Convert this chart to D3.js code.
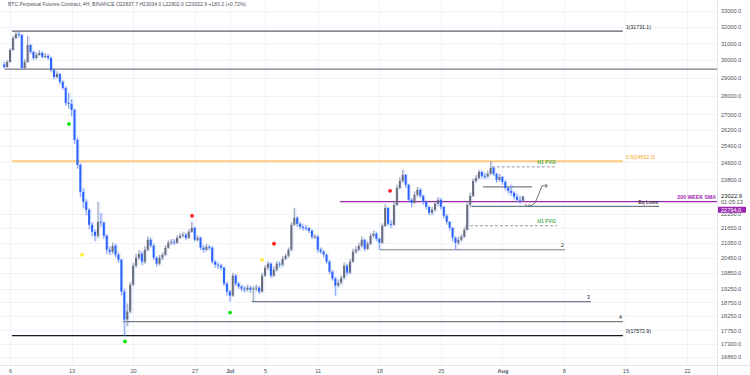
<!DOCTYPE html>
<html><head><meta charset="utf-8">
<script src="https://cdn.jsdelivr.net/npm/d3@7"></script>
<style>
html,body{margin:0;padding:0;background:#fff;}
svg{display:block;font-family:"Liberation Sans",Arial,sans-serif;}
</style></head>
<body><svg id="c" width="750" height="375"></svg>
<script>
// ---------- DATA ----------
const titleText = "BTC Perpetual Futures Contract, 4H, BINANCE  O22837.7  H23034.0  L22802.0  C23022.9  +183.2 (+0.72%)";
const firstCandleTime = "2022-06-05T08:00:00Z";
const candleHours = 8;
const firstOpen = 29750;
const closes = [29602,29891,30595,31317,31560,31499,29545,29891,30891,30477,
30125,30301,30419,30183,30242,30125,29430,29034,29203,28754,
28421,27606,27553,27234,25695,24479,23231,22786,22435,21792,
21499,21333,21919,21877,21333,20762,20682,20924,20562,20364,
19141,18131,18415,19402,20129,20443,20602,20286,20762,21168,
20924,20443,20207,20443,20562,20842,21046,21087,21046,21250,
21333,21374,21250,21499,21666,21168,21250,20842,20762,20883,
20842,20286,20168,20129,20051,19440,19141,18993,19743,19440,
19327,19252,19215,19290,19215,19252,19290,19141,19743,20051,
20207,19743,19973,20207,20168,20404,20522,20762,21792,22090,
21834,21708,21666,21650,21540,21292,21300,20762,20682,20562,
20286,19896,19628,19365,19477,19666,20129,19858,20286,20682,
20762,20924,21168,20802,21005,21333,21416,21209,21046,21750,
22522,21834,21792,22653,23412,23731,24009,23548,22874,22742,
23096,23321,23051,22786,22566,22305,22435,22697,22874,22566,
22175,21919,21666,21250,21046,21168,21292,21582,22653,23051,
23731,23869,24149,23962,23940,24056,24337,24056,23777,23916,
23685,23412,23276,23186,23007,22874,22838,23022.9];
const highs = [29900,30000,30700,31450,31700,31731,31550,30050,31450,30950,
30550,30450,30600,30500,30400,30350,30200,29500,29350,29250,
28850,28500,28150,27800,27300,25800,24550,23400,22900,22500,
21900,21600,22786,22300,21950,21400,20900,21050,21000,20650,
20400,19250,18700,19500,20250,20600,20750,20700,20900,21300,
21250,21000,20500,20550,20650,20950,21150,21200,21200,21350,
21450,21500,21450,21600,21919,21700,21350,21300,20950,21000,
20950,20900,20350,20250,20200,20100,19500,19200,19850,19800,
19500,19400,19350,19400,19350,19350,19400,19350,19850,20150,
20300,20250,20100,20300,20300,20500,20600,20850,21900,22522,
22150,21900,21800,21780,21700,21600,21400,21350,20850,20750,
20600,20350,19950,19700,19600,19750,20250,20200,20400,20800,
20900,21050,21300,21200,21100,21450,21550,21500,21250,21850,
22700,22550,22000,22800,23550,23900,24242,24050,23600,22950,
23250,23450,23400,23100,22850,22600,22550,22800,23000,22950,
22600,22250,21950,21700,21300,21300,21400,21700,22750,23200,
23850,24000,24250,24200,24100,24200,24650,24400,24100,24050,
23950,23750,23450,23550,23250,23150,23050,23034];
const lows = [29500,29560,29850,30550,31250,31350,29480,29500,29850,30350,
30000,30050,30250,30100,30100,30000,29300,28900,28950,28600,
28300,27450,27300,26900,25500,24300,23000,22500,22200,21600,
21300,21100,21250,21700,21200,20600,20550,20600,20450,20250,
19000,17572.9,17900,18350,19350,20050,20350,20150,20200,20700,
20850,20350,20100,20150,20350,20500,20800,20950,20950,21000,
21200,21250,21150,21200,21450,21100,21100,20750,20650,20700,
20750,20200,20050,20000,19950,19350,19000,18774,18950,19350,
19250,19150,19100,19150,19100,18780,19150,19050,19100,19700,
19950,19650,19700,19900,20050,20100,20350,20450,20700,21750,
21700,21600,21550,21550,21450,21200,21200,20650,20600,20450,
20200,19800,19550,18993,19300,19400,19600,19750,19800,20250,
20600,20700,20850,20700,20750,20950,21250,21100,20762,21000,
21700,21750,21650,21750,22600,23350,23650,23400,22750,22550,
22700,23000,22950,22650,22450,22200,22200,22350,22600,22450,
22050,21800,21550,21100,20770,20950,21100,21250,21550,22550,
23000,23650,23800,23850,23800,23850,24000,23950,23650,23700,
23550,23300,23150,23050,22900,22750,22700,22802];

const yTicks = [33000,32000,31000,30000,29000,28000,27000,26200,25400,24600,23800,22250,21650,21050,20450,19850,19250,18750,18250,17750,17300,16860];
const xTickDates = ["2022-06-06","2022-06-13","2022-06-20","2022-06-27","2022-07-01","2022-07-05","2022-07-11","2022-07-18","2022-07-25","2022-08-01","2022-08-08","2022-08-15","2022-08-22"];
const xTickLabels = ["6","13","20","27","Jul","5","11","18","25","Aug","8","15","22"];

// levels: key, price, from, to, label
const levelKeys   = ["fib1","range","fib05","sma","eq","box","fvgHi","fvgLo","lvl2","lvl3","lvl4","fib0"];
const levelPrices = [31731.1,29485,24652.0,22794.0,22588,23457,24384,21750,20762,18774,18060,17572.9];
const levelFrom   = ["2022-06-06T05:30Z","2022-06-05T10:00Z","2022-06-06T05:30Z","2022-07-13T13:00Z","2022-07-28T12:00Z","2022-07-29T19:00Z","2022-07-30T19:00Z","2022-07-27T18:00Z","2022-07-18T02:00Z","2022-07-03T12:00Z","2022-06-18T20:00Z","2022-06-06T05:30Z"];
const levelTo     = ["2022-08-14T17:00Z","2022-08-26T00:00Z","2022-08-14T17:00Z","2022-08-26T00:00Z","2022-08-18T20:00Z","2022-08-04T09:00Z","2022-08-07T05:00Z","2022-08-07T05:00Z","2022-08-08T03:00Z","2022-08-11T01:30Z","2022-08-14T17:00Z","2022-08-14T17:00Z"];
const levelLabels = ["1(31731.1)","","0.5(24652.0)","200 WEEK SMA","Eq Lows","","H1 FVG","H1 FVG","2","3","4","0(17572.9)"];

const projTimes  = ["2022-08-03T14:00Z","2022-08-03T19:30Z","2022-08-04T01:00Z","2022-08-04T06:30Z","2022-08-04T17:30Z","2022-08-05T12:30Z","2022-08-06T02:00Z"];
const projPrices = [22697,22566,22653,22610,22742,23503,23503];

const markerTimes  = ["2022-06-12T17:00Z","2022-06-14T04:30Z","2022-06-19T02:00Z","2022-06-26T17:00Z","2022-07-01T00:45Z","2022-07-04T16:00Z","2022-07-06T00:45Z","2022-07-19T05:30Z"];
const markerPrices = [26504,20562,17378,22175,18379,20364,21005,23276];
const markerKinds  = ["low","mid","low","high","low","mid","high","high"];

const lastPrice = 23022.9, lastPriceText = "23022.9", countdown = "01:05:13", smaText = "22794.0";

// ---------- SCALES ----------
const W = 750, H = 375, plotR = 717, plotB = 365;
const x = d3.scaleUtc().domain([new Date("2022-06-06T00:00Z"), new Date("2022-08-22T00:00Z")]).range([10, 687]);
const y = d3.scaleLog().domain([16860, 33000]).range([357, 11]);

const svg = d3.select("#c");
svg.append("rect").attr("width",W).attr("height",H).attr("fill","#fff");
const clip = svg.append("defs").append("clipPath").attr("id","pc");
clip.append("rect").attr("x",0).attr("y",0).attr("width",plotR).attr("height",plotB);

// grid
const grid = svg.append("g");
grid.selectAll("line.h").data(yTicks).join("line")
  .attr("x1",0).attr("x2",plotR).attr("y1",d=>Math.round(y(d))+0.5).attr("y2",d=>Math.round(y(d))+0.5)
  .attr("stroke","#f0f3fa").attr("stroke-width",1);
grid.selectAll("line.v").data(xTickDates).join("line")
  .attr("y1",0).attr("y2",plotB).attr("x1",d=>Math.round(x(new Date(d)))+0.5).attr("x2",d=>Math.round(x(new Date(d)))+0.5)
  .attr("stroke","#f0f3fa").attr("stroke-width",1);

const plot = svg.append("g").attr("clip-path","url(#pc)");

// levels
const levelStyle = {
  fib1:{c:"#5d606b",w:1.2}, range:{c:"#787b86",w:1.2}, fib05:{c:"#ffcc80",w:2.2}, sma:{c:"#9c27b0",w:1.3},
  eq:{c:"#787b86",w:1.2}, box:{c:"#787b86",w:1.2}, fvgHi:{c:"#9598a1",w:1,d:"3,2"}, fvgLo:{c:"#9598a1",w:1,d:"3,2"},
  lvl2:{c:"#787b86",w:1.2}, lvl3:{c:"#787b86",w:1.2}, lvl4:{c:"#787b86",w:1.2}, fib0:{c:"#131722",w:1.3}
};
const levels = levelKeys.map((k,i)=>({k, p:levelPrices[i], f:new Date(levelFrom[i]), t:new Date(levelTo[i]), lab:levelLabels[i]}));
plot.selectAll("line.lv").data(levels).join("line")
  .attr("x1",d=>x(d.f)).attr("x2",d=>x(d.t)).attr("y1",d=>y(d.p)).attr("y2",d=>y(d.p))
  .attr("stroke",d=>levelStyle[d.k].c).attr("stroke-width",d=>levelStyle[d.k].w)
  .attr("stroke-dasharray",d=>levelStyle[d.k].d||null);

// candles
const t0 = new Date(firstCandleTime).getTime();
const candles = closes.map((c,i)=>({t:new Date(t0+i*candleHours*3600e3), o:i?closes[i-1]:firstOpen, c, h:highs[i], l:lows[i]}));
const UP="#6b6e78", DN="#2962ff";
const cg = plot.append("g");
cg.selectAll("rect.ghost").data(candles).join("rect")
  .attr("x",d=>x(d.t)-0.6).attr("width",2.8)
  .attr("y",d=>y(d.h)).attr("height",d=>Math.max(1,y(d.l)-y(d.h)))
  .attr("fill","#2962ff").attr("opacity",0.15);
cg.selectAll("line.wick").data(candles).join("line")
  .attr("x1",d=>x(d.t)).attr("x2",d=>x(d.t)).attr("y1",d=>y(d.h)).attr("y2",d=>y(d.l))
  .attr("stroke",d=>d.c>=d.o?"#9a9ca4":"#7d9cf7").attr("stroke-width",0.9);
cg.selectAll("rect.body").data(candles).join("rect")
  .attr("x",d=>x(d.t)-1).attr("width",2)
  .attr("y",d=>y(Math.max(d.o,d.c))).attr("height",d=>Math.max(1,Math.abs(y(d.o)-y(d.c))))
  .attr("fill",d=>d.c>=d.o?UP:DN);

// projection path
const proj = projTimes.map((t,i)=>[x(new Date(t)), y(projPrices[i])]);
plot.append("path").attr("d",d3.line()(proj)).attr("fill","none").attr("stroke","#5d606b").attr("stroke-width",0.9);
const pe = proj[proj.length-1];
plot.append("path").attr("d",`M${pe[0]-2},${pe[1]-1.8}L${pe[0]+0.5},${pe[1]}L${pe[0]-2},${pe[1]+1.8}`)
  .attr("fill","none").attr("stroke","#5d606b").attr("stroke-width",0.9);

// markers
const mColor = {low:"#00e600", mid:"#ffeb3b", high:"#ff1a1a"};
plot.selectAll("circle.m").data(markerTimes.map((t,i)=>({t:new Date(t),p:markerPrices[i],k:markerKinds[i]}))).join("circle")
  .attr("cx",d=>x(d.t)).attr("cy",d=>y(d.p)).attr("r",1.9).attr("fill",d=>mColor[d.k]);

// level labels
const labStyle = {fib1:{c:"#131722",a:"start"}, fib05:{c:"#f5a623",a:"start"}, sma:{c:"#9c27b0",a:"end"}, eq:{c:"#131722",a:"end"},
  fvgHi:{c:"#4caf50",a:"end"}, fvgLo:{c:"#4caf50",a:"end"}, lvl2:{c:"#131722",a:"end"}, lvl3:{c:"#131722",a:"end"}, lvl4:{c:"#131722",a:"end"}, fib0:{c:"#131722",a:"start"}};
svg.selectAll("text.lv").data(levels.filter(d=>d.lab)).join("text")
  .attr("x",d=>{const s=labStyle[d.k]; return s.a==="start"? x(d.t)+3 : (d.k==="sma"? plotR-1 : x(d.t)-1);})
  .attr("y",d=>y(d.p)-2.5)
  .attr("text-anchor",d=>labStyle[d.k].a)
  .attr("font-size",5.2).attr("fill",d=>labStyle[d.k].c)
  .attr("font-weight",d=>["sma","fvgHi","fvgLo"].includes(d.k)?"bold":null)
  .text(d=>d.lab);

// axes frame
svg.append("line").attr("x1",plotR+0.5).attr("x2",plotR+0.5).attr("y1",0).attr("y2",H).attr("stroke","#e0e3eb");
svg.append("line").attr("x1",0).attr("x2",W).attr("y1",plotB+0.5).attr("y2",plotB+0.5).attr("stroke","#e0e3eb");

// y axis
const yAxis = d3.axisRight(y).tickValues(yTicks).tickSize(0).tickPadding(0).tickFormat(d=>d3.format(".1f")(d));
const ya = svg.append("g").attr("transform",`translate(${plotR+4},0)`).call(yAxis);
ya.select(".domain").remove();
ya.selectAll("text").attr("font-size",5.6).attr("fill","#50535e").attr("font-family","Liberation Sans, Arial, sans-serif");

// last price and countdown
svg.append("rect").attr("x",plotR+2).attr("y",y(lastPrice)-4).attr("width",31).attr("height",13).attr("fill","#fff");
svg.append("text").attr("x",plotR+4).attr("y",y(lastPrice)+1.5).attr("font-size",5.8).attr("fill","#131722").text(lastPriceText);
svg.append("text").attr("x",plotR+4).attr("y",y(lastPrice)+7.5).attr("font-size",5.6).attr("fill","#50535e").text(countdown);
svg.append("rect").attr("x",plotR+1).attr("y",y(22794)+5).attr("width",28).attr("height",6).attr("fill","#9c27b0").attr("rx",0.5);
svg.append("text").attr("x",plotR+4).attr("y",y(22794)+10.2).attr("font-size",5.6).attr("fill","#fff").text(smaText);

// x axis
const xAxis = d3.axisBottom(x).tickValues(xTickDates.map(d=>new Date(d))).tickSize(0).tickPadding(0)
  .tickFormat((d,i)=>xTickLabels[i]);
const xa = svg.append("g").attr("transform",`translate(0,${plotB+4})`).call(xAxis);
xa.select(".domain").remove();
xa.selectAll("text").attr("font-size",5.6).attr("fill","#50535e").attr("font-family","Liberation Sans, Arial, sans-serif")
  .attr("font-weight",(d,i)=>(xTickLabels[i]==="Jul"||xTickLabels[i]==="Aug")?"bold":null);

// title
svg.append("text").attr("x",8).attr("y",6).attr("font-size",5).attr("fill","#50535e")
  .attr("textLength",238).attr("lengthAdjust","spacingAndGlyphs").text(titleText);
</script></body></html>
